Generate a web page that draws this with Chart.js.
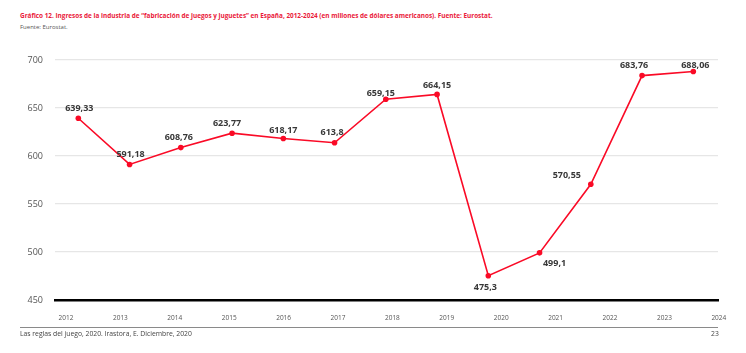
<!DOCTYPE html>
<html>
<head>
<meta charset="utf-8">
<script src="https://cdn.jsdelivr.net/npm/chart.js@4.4.1/dist/chart.umd.min.js"></script>
<style>
  html, body { margin: 0; padding: 0; background: #fff; }
  body { width: 746px; height: 353px; position: relative; overflow: hidden; font-family: "Open Sans", sans-serif; }
  #wrap { position: absolute; left: 0; top: 0; width: 746px; height: 353px; }
  .txt { position: absolute; white-space: nowrap; line-height: 1; }
  #title { left: 20px; top: 12.5px; font-size: 6.4px; font-weight: 700; color: #ea1a3a; }
  #sub { left: 20px; top: 23.5px; font-size: 6px; color: #555; }
  #foot { left: 20px; top: 330.5px; font-size: 6.8px; color: #444; }
  #page { left: 711px; top: 330.5px; font-size: 6.8px; color: #444; }
  #rule { position: absolute; left: 20px; top: 326.8px; width: 698px; height: 1px; background: #8a8a8a; }
</style>
</head>
<body>
<div id="title" class="txt">Gráfico 12. Ingresos de la industria de “fabricación de juegos y juguetes” en España, 2012-2024 (en millones de dólares americanos). Fuente: Eurostat.</div>
<div id="sub" class="txt">Fuente: Eurostat.</div>
<div id="wrap"><canvas id="c" width="746" height="353"></canvas></div>
<div id="rule"></div>
<div id="foot" class="txt">Las reglas del juego, 2020. Irastora, E. Diciembre, 2020</div>
<div id="page" class="txt">23</div>
<script>
// ---- data ----
const years = ['2012','2013','2014','2015','2016','2017','2018','2019','2020','2021','2022','2023','2024'];
const values = [639.33, 591.18, 608.76, 623.77, 618.17, 613.8, 659.15, 664.15, 475.3, 499.1, 570.55, 683.76, 688.06];
const valueLabels = ['639,33','591,18','608,76','623,77','618,17','613,8','659,15','664,15','475,3','499,1','570,55','683,76','688,06'];
const yTicks = [450, 500, 550, 600, 650, 700];

// label placement (pixel offsets of label centre from its point)
const labelOffsets = [[1,-9.5],[1,-10],[-2,-10],[-5,-9.5],[0,-8],[-2.5,-10.5],[-5,-6],[0,-8.5],[-3,12],[15,11],[-24,-9],[-8,-10],[2,-6]];

const RED = '#fa0a26';

const labelPlugin = {
  id: 'valueLabels',
  afterDatasetsDraw(chart) {
    const ctx = chart.ctx;
    const meta = chart.getDatasetMeta(0);
    ctx.save();
    ctx.font = '700 9px "Open Sans"';
    ctx.fillStyle = '#383838';
    ctx.textAlign = 'center';
    ctx.textBaseline = 'middle';
    meta.data.forEach((pt, i) => {
      const o = labelOffsets[i];
      ctx.fillText(valueLabels[i], pt.x + o[0], pt.y + o[1]);
    });
    ctx.restore();
  }
};

new Chart(document.getElementById('c'), {
  type: 'line',
  data: {
    datasets: [{
      data: values.map((v, i) => ({ x: i, y: v })),
      borderColor: RED,
      backgroundColor: RED,
      borderWidth: 1.6,
      pointRadius: 2.8,
      pointHoverRadius: 2.8,
      pointBackgroundColor: RED,
      pointBorderWidth: 0,
      tension: 0,
      xAxisID: 'x',
      yAxisID: 'y',
      clip: false
    }]
  },
  options: {
    responsive: false,
    animation: false,
    events: [],
    layout: { padding: { left: 0, right: 28, top: 60, bottom: 23 } },
    plugins: { legend: { display: false }, tooltip: { enabled: false }, title: { display: false } },
    scales: {
      x: {
        type: 'linear',
        display: false,
        min: -0.455,
        max: 12.482
      },
      xYears: {
        type: 'linear',
        position: 'bottom',
        min: -0.202,
        max: 11.985,
        afterBuildTicks: (s) => { s.ticks = years.map((_, i) => ({ value: i })); },
        afterFit: (s) => { s.height = 30; },
        grid: { display: false, drawTicks: false },
        border: { display: true, color: '#000', width: 2.6 },
        ticks: {
          padding: 14.5,
          autoSkip: false,
          maxRotation: 0,
          color: '#555',
          font: { family: 'Open Sans', size: 6.5 },
          callback: (v) => years[v]
        }
      },
      y: {
        min: 450,
        max: 700,
        afterBuildTicks: (s) => { s.ticks = yTicks.map(v => ({ value: v })); },
        afterFit: (s) => { s.width = 55; },
        grid: { color: '#e6e6e6', lineWidth: 1.2, drawTicks: false },
        border: { display: false },
        ticks: {
          padding: 12,
          color: '#555',
          font: { family: 'Open Sans', size: 9 }
        }
      }
    }
  },
  plugins: [labelPlugin]
});
</script>
</body>
</html>
